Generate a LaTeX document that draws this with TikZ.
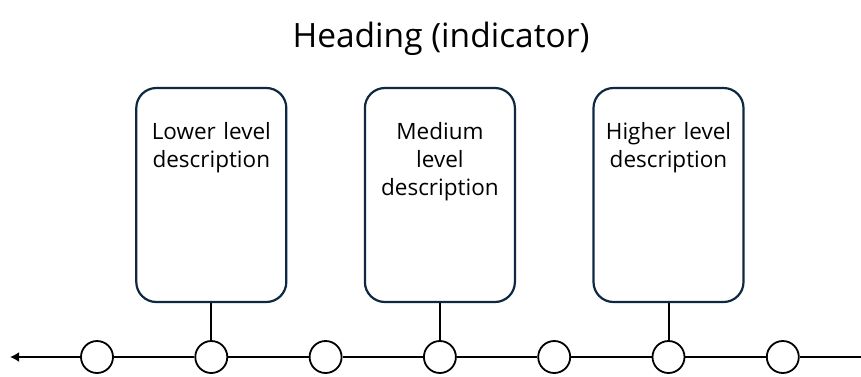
\documentclass[tikz,border=0pt]{standalone}
\usepackage{fontspec}
\setmainfont{Open Sans}
\usetikzlibrary{positioning,arrows.meta}
\definecolor{boxnavy}{RGB}{14,40,65}

\tikzset{
  tick/.style={circle, draw, line width=1.8pt, minimum size=32pt, inner sep=0pt, fill=white},
  levelbox/.style={draw=boxnavy, line width=2.2pt, rounded corners=20pt,
    minimum width=150pt, minimum height=214pt},
  boxtext/.style={anchor=north, align=center, text width=136pt, inner sep=0pt,
    font=\fontsize{22.5}{28}\selectfont},
  axis/.style={line width=2.4pt},
  stem/.style={line width=2pt}
}

\begin{document}
\begin{tikzpicture}[x=1pt,y=-1pt]
    \useasboundingbox (0,0) rectangle (861,376);
    \node [anchor=base] (title) at (441,47) {\fontsize{33.5}{38}\selectfont Heading (indicator)};

    % timeline
    \node [tick] (c1) at (97,357) {};
    \foreach \i [count=\j from 2] in {1,...,6}
      \node [tick, right=80.5pt of c\i] (c\j) {};
    \coordinate (lend) at (10,357);
    \coordinate (rend) at (861,357);

    \draw [axis, -{Latex[length=9pt,width=10pt]}] (c1) -- (lend);
    \foreach \i [count=\j from 2] in {1,...,6}
      \draw [axis] (c\i) -- (c\j);
    \draw [axis] (c7) -- (rend);

    % boxes
    \node [levelbox, above=37pt of c2] (lowbox) {};
    \node [levelbox, above=37pt of c4] (medbox) {};
    \node [levelbox, above=37pt of c6] (highbox) {};

    \node [boxtext, below=35pt of lowbox.north] (lowtxt) {Lower level description};
    \node [boxtext, below=35pt of medbox.north] (medtxt) {Medium\\ level\\ description};
    \node [boxtext, below=35pt of highbox.north] (hightxt) {Higher level description};

    \draw [stem] (lowbox) -- (c2);
    \draw [stem] (medbox) -- (c4);
    \draw [stem] (highbox) -- (c6);
\end{tikzpicture}
\end{document}
